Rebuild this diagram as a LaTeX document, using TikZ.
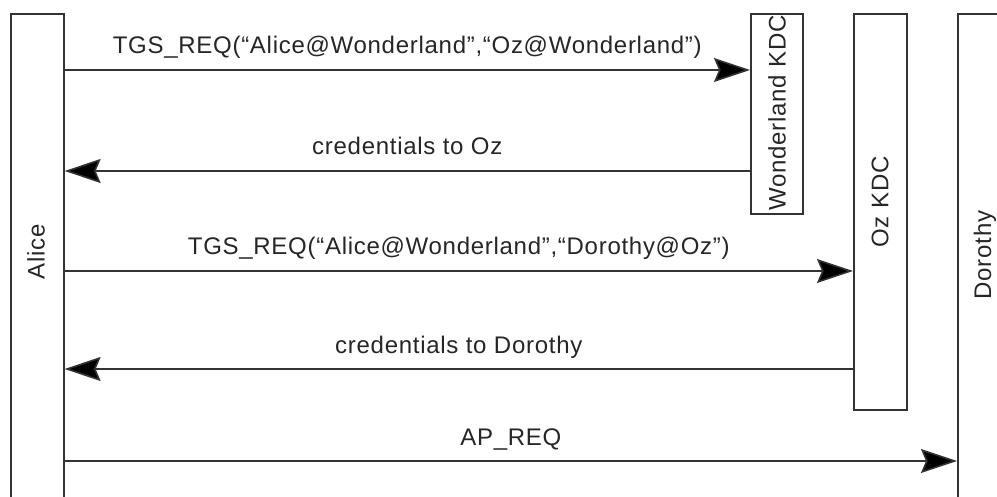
\documentclass[tikz,border=0pt]{standalone}
\usepackage{fontspec}
\setmainfont{Liberation Sans}[LetterSpace=3]
\usetikzlibrary{arrows.meta}
\begin{document}
\begin{tikzpicture}[x=1pt,y=-1pt,
  box/.style={draw=black!80, line width=1.6pt, fill=white, anchor=north west, inner sep=0pt},
  msg/.style={draw=black!80, line width=1.6pt, -{Stealth[length=36pt,width=24pt,inset=5pt,fill=black]}},
  lbl/.style={font=\fontsize{24}{26}\selectfont, text=black!85, anchor=base, inner sep=0pt},
  vlbl/.style={font=\fontsize{24}{26}\selectfont, text=black!85, rotate=90, inner sep=0pt}]
\useasboundingbox (0,0) rectangle (997,497);
\fill[white] (0,0) rectangle (997,497);
% participants
\node[box, minimum width=53pt, minimum height=530pt] (alice) at (10,13) {};
\node[box, minimum width=52pt, minimum height=200pt] (wk) at (750,13) {};
\node[box, minimum width=53pt, minimum height=396pt] (oz) at (853,13) {};
\node[box, minimum width=80pt, minimum height=530pt] (dorothy) at (957,13) {};
\node[vlbl] (alicel) at (36,252) {Alice};
\node[vlbl] (wkl) at (777,113) {Wonderland KDC};
\node[vlbl] (ozl) at (880,202) {Oz KDC};
\node[vlbl] (dorothyl) at (985,255) {Dorothy};
% messages
\coordinate (y1) at (0,70);
\coordinate (y2) at (0,171);
\coordinate (y3) at (0,271);
\coordinate (y4) at (0,369);
\coordinate (y5) at (0,461);
\draw[msg] (alice.east |- y1) -- (wk.west |- y1)
  node[lbl, pos=0.5, yshift=16pt] (m1) {TGS\_REQ(“Alice@Wonderland”,“Oz@Wonderland”)};
\draw[msg] (wk.west |- y2) -- (alice.east |- y2)
  node[lbl, pos=0.5, yshift=16pt] (m2) {credentials to Oz};
\draw[msg] (alice.east |- y3) -- (oz.west |- y3)
  node[lbl, pos=0.5, yshift=16pt] (m3) {TGS\_REQ(“Alice@Wonderland”,“Dorothy@Oz”)};
\draw[msg] (oz.west |- y4) -- (alice.east |- y4)
  node[lbl, pos=0.5, yshift=16pt] (m4) {credentials to Dorothy};
\draw[msg] (alice.east |- y5) -- (dorothy.west |- y5)
  node[lbl, pos=0.5, yshift=16pt] (m5) {AP\_REQ};
\end{tikzpicture}
\end{document}
